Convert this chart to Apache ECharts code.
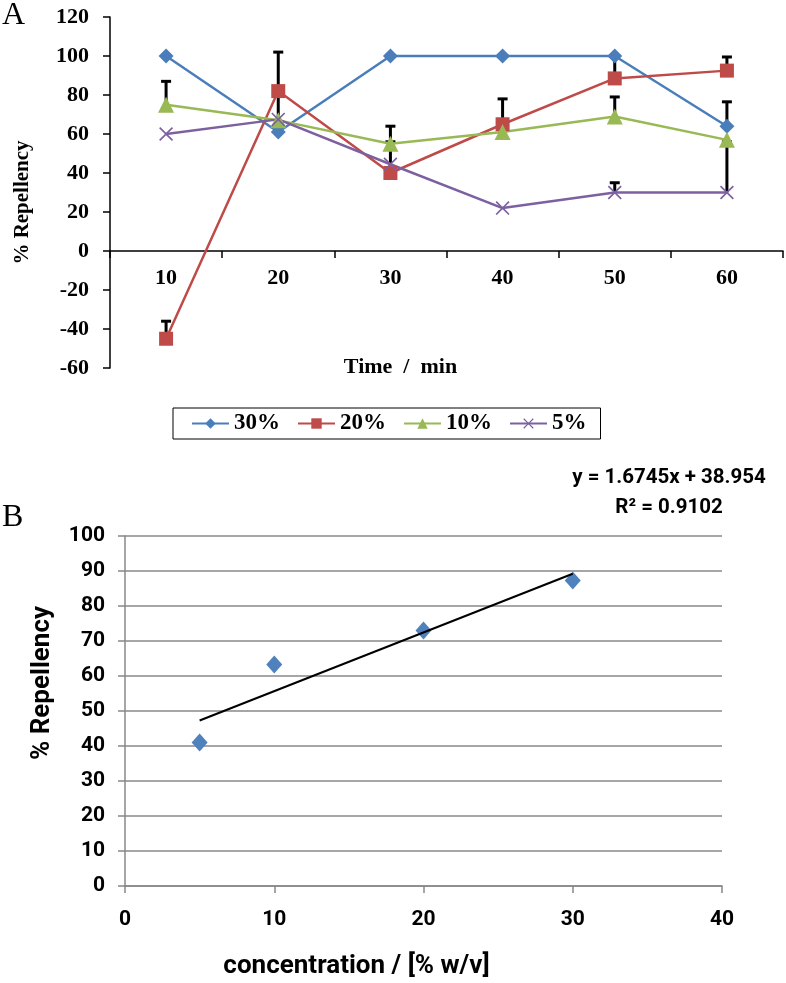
<!DOCTYPE html>
<html>
<head>
<meta charset="utf-8">
<script src="https://cdn.jsdelivr.net/npm/echarts@6/dist/echarts.min.js"></script>
<style>html,body{margin:0;padding:0;background:#fff;}#c{width:786px;height:983px;}</style>
</head>
<body>
<div id="c"></div>
<script>
// ---- Panel A data ----
const timeCategories = ['10', '20', '30', '40', '50', '60'];
const rep30 = [100, 61, 100, 100, 100, 64];
const rep20 = [-45, 82, 40, 65, 88.5, 92.5];
const rep10 = [75, 67, 55, 61, 69, 57];
const rep5 = [60, 67.5, 44.5, 22, 30, 30];
// upper ends of error bars (null = none)
const errUp30 = [null, null, null, null, null, 76.5];
const errUp20 = [-36, 102, null, 78, 100, 99.5];
const errUp10 = [87, null, 64, null, 79, null];
const errUp5 = [null, 84, 56, null, 35, 56];
const seriesNamesA = ['30%', '20%', '10%', '5%'];
const yTicksA = { min: -60, max: 120, interval: 20 };

// ---- Panel B data ----
const concentration = [5, 10, 20, 30];
const meanRepellency = [41, 63.3, 73, 87.3];
const trendX = [5, 30];
const trendY = [47.3, 89.2];
const equationText = 'y = 1.6745x + 38.954';
const r2Text = 'R² = 0.9102';
const xTicksB = { min: 0, max: 40, interval: 10 };
const yTicksB = { min: 0, max: 100, interval: 10 };

const colorsA = ['#4A7EBB', '#BE4B48', '#98B954', '#7D60A0'];
const symbolsA = ['diamond', 'rect', 'triangle',
  'path://M1,0 L6,5 L11,0 L12,1 L7,6 L12,11 L11,12 L6,7 L1,12 L0,11 L5,6 L0,1 Z'];
const symbolSizesA = [15, 14, 16, 14];
const serif = "'Liberation Serif', 'Times New Roman', serif";
const sans = "Roboto, 'Open Sans', sans-serif";

const valsA = [rep30, rep20, rep10, rep5];
const errsA = [errUp30, errUp20, errUp10, errUp5];
const errData = [];
errsA.forEach((arr, s) => {
  arr.forEach((up, i) => {
    if (up !== null) errData.push([i, valsA[s][i], up]);
  });
});

const chart = echarts.init(document.getElementById('c'));
const lineSeries = seriesNamesA.map((n, k) => ({
  name: n,
  type: 'line',
  xAxisIndex: 0, yAxisIndex: 0,
  data: valsA[k],
  symbol: symbolsA[k],
  symbolSize: symbolSizesA[k],
  showAllSymbol: true,
  lineStyle: { color: colorsA[k], width: 2.5 },
  itemStyle: { color: colorsA[k] },
  emphasis: { disabled: true },
  z: 3,
  animation: false
}));

chart.setOption({
  animation: false,
  textStyle: { fontFamily: serif },
  grid: [
    { left: 110, right: 3, top: 17, bottom: 615 },
    { left: 125, right: 64, top: 536, bottom: 97 }
  ],
  legend: {
    data: seriesNamesA,
    left: 173, top: 408,
    padding: [4, 14, 4, 18],
    itemWidth: 37, itemHeight: 13, itemGap: 17,
    borderColor: '#000', borderWidth: 1,
    textStyle: { fontFamily: serif, fontWeight: 'bold', fontSize: 23, color: '#000' },
    selectedMode: false
  },
  xAxis: [
    {
      gridIndex: 0, type: 'category', data: timeCategories, boundaryGap: true,
      offset: -117,
      axisLine: { onZero: false, lineStyle: { color: '#000', width: 1.5 } },
      axisTick: { show: true, length: 7, lineStyle: { color: '#000', width: 1.5 } },
      axisLabel: { margin: 16, color: '#000', fontFamily: serif, fontWeight: 'bold', fontSize: 22 },
      splitLine: { show: false },
      name: 'Time  /  min', nameLocation: 'middle', nameGap: 105,
      nameTextStyle: { color: '#000', fontFamily: serif, fontWeight: 'bold', fontSize: 22, padding: [0, 92, 0, 0] }
    },
    {
      gridIndex: 1, type: 'value', min: xTicksB.min, max: xTicksB.max, interval: xTicksB.interval,
      axisLine: { show: true, lineStyle: { color: '#888', width: 1.5 } },
      axisTick: { show: true, length: 7, lineStyle: { color: '#888', width: 1.5 } },
      axisLabel: { margin: 23, color: '#000', fontFamily: sans, fontWeight: 'bold', fontSize: 21 },
      splitLine: { show: false },
      name: 'concentration / [% w/v]', nameLocation: 'middle', nameGap: 67,
      nameTextStyle: { color: '#000', fontFamily: sans, fontWeight: 'bold', fontSize: 26, padding: [0, 134, 0, 0] }
    }
  ],
  yAxis: [
    {
      gridIndex: 0, type: 'value', min: yTicksA.min, max: yTicksA.max, interval: yTicksA.interval,
      axisLine: { show: true, lineStyle: { color: '#000', width: 1.5 } },
      axisTick: { show: true, length: 7, lineStyle: { color: '#000', width: 1.5 } },
      axisLabel: { margin: 21, color: '#000', fontFamily: serif, fontWeight: 'bold', fontSize: 22 },
      splitLine: { show: false },
      name: '% Repellency', nameLocation: 'middle', nameGap: 77, nameRotate: 90,
      nameTextStyle: { color: '#000', fontFamily: serif, fontWeight: 'bold', fontSize: 21, padding: [0, 20, 0, 0] }
    },
    {
      gridIndex: 1, type: 'value', min: yTicksB.min, max: yTicksB.max, interval: yTicksB.interval,
      axisLine: { show: true, lineStyle: { color: '#888', width: 1.5 } },
      axisTick: { show: true, length: 7, lineStyle: { color: '#888', width: 1.5 } },
      axisLabel: { margin: 20, color: '#000', fontFamily: sans, fontWeight: 'bold', fontSize: 21 },
      splitLine: { show: true, lineStyle: { color: '#888', width: 1.5 } },
      name: '% Repellency', nameLocation: 'middle', nameGap: 70, nameRotate: 90,
      nameTextStyle: { color: '#000', fontFamily: sans, fontWeight: 'bold', fontSize: 26, padding: [0, 0, 0, 56] }
    }
  ],
  graphic: [
    { type: 'text', left: 2, top: 0, style: { text: 'A', font: "32px " + serif, fill: '#000' } },
    { type: 'text', left: 2, top: 502, style: { text: 'B', font: "32px " + serif, fill: '#000' } },
    { type: 'text', x: 669, y: 478, style: { text: equationText, font: "bold 20.5px " + sans, fill: '#000', textAlign: 'center', textVerticalAlign: 'middle' } },
    { type: 'text', x: 669, y: 508, style: { text: r2Text, font: "bold 20.5px " + sans, fill: '#000', textAlign: 'center', textVerticalAlign: 'middle' } }
  ],
  series: [
    {
      type: 'custom', name: 'errors', xAxisIndex: 0, yAxisIndex: 0, z: 1,
      data: errData,
      encode: { x: 0, y: [1, 2] },
      renderItem: function (params, api) {
        const x = api.value(0);
        const lo = api.coord([x, api.value(1)]);
        const hi = api.coord([x, api.value(2)]);
        return {
          type: 'group',
          children: [
            { type: 'line', shape: { x1: lo[0], y1: lo[1], x2: hi[0], y2: hi[1] }, style: { stroke: '#000', lineWidth: 3 } },
            { type: 'line', shape: { x1: hi[0] - 5, y1: hi[1], x2: hi[0] + 5, y2: hi[1] }, style: { stroke: '#000', lineWidth: 3 } }
          ]
        };
      }
    },
    ...lineSeries,
    {
      type: 'scatter', name: 'mean', xAxisIndex: 1, yAxisIndex: 1,
      data: concentration.map((c, i) => [c, meanRepellency[i]]),
      symbol: 'diamond', symbolSize: [16, 18],
      itemStyle: { color: '#4F81BD', opacity: 1 }, z: 3
    },
    {
      type: 'line', name: 'trend', xAxisIndex: 1, yAxisIndex: 1,
      data: trendX.map((x, i) => [x, trendY[i]]),
      symbol: 'none', lineStyle: { color: '#000', width: 2 }, z: 4
    }
  ]
});
</script>
</body>
</html>
